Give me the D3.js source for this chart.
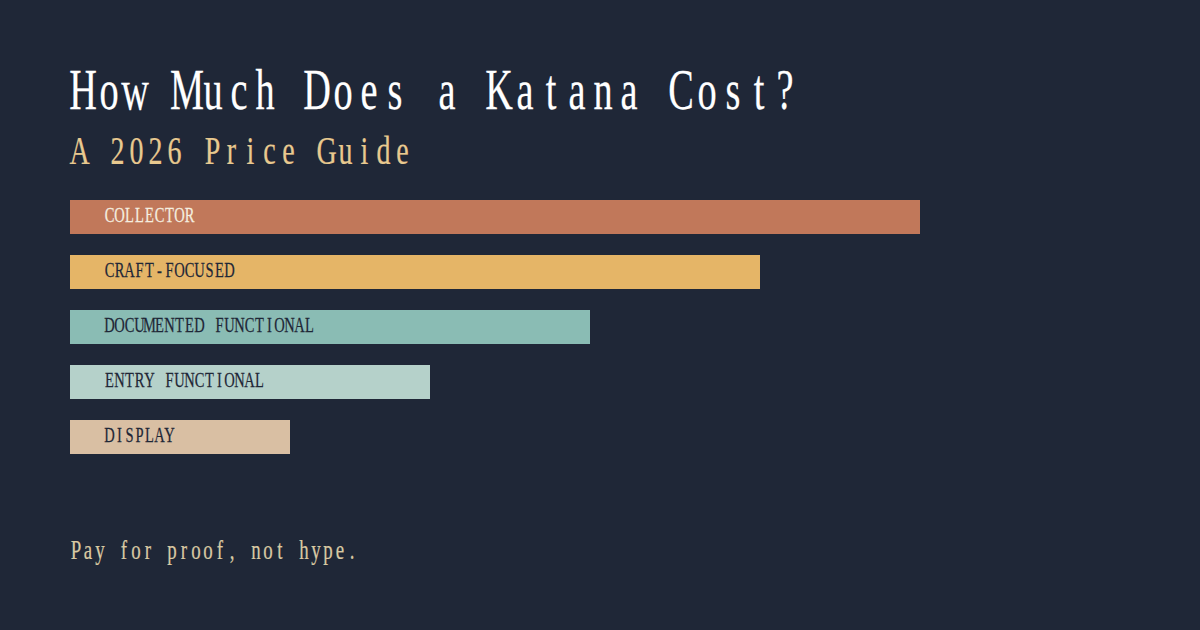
<!DOCTYPE html>
<html>
<head>
<meta charset="utf-8">
<script src="https://cdn.jsdelivr.net/npm/d3@7"></script>
<style>
  html, body { margin: 0; padding: 0; background: #1f2737; }
  svg { display: block; }
</style>
</head>
<body>
<svg id="chart"></svg>
<script>
const categories = ["COLLECTOR", "CRAFT-FOCUSED", "DOCUMENTED FUNCTIONAL", "ENTRY FUNCTIONAL", "DISPLAY"];
const values = [850, 690, 520, 360, 220];
const barColors = ["#c1785a", "#e5b567", "#8abcb4", "#b5d1ca", "#d9bfa3"];
const labelColors = ["#f5efe0", "#1f2737", "#1f2737", "#1f2737", "#1f2737"];

const width = 1200, height = 630;

const svg = d3.select("#chart").attr("width", width).attr("height", height);

svg.append("rect")
  .attr("width", width)
  .attr("height", height)
  .attr("fill", "#1f2737");

// narrow fixed-pitch serif: one text element, squeezed, each glyph centred in its cell
function pitchText(str, left, baseline, size, pitch, squeeze, fill) {
  const xs = Array.from(str, (c, i) => (pitch * (i + 0.5)) / squeeze);
  return svg.append("text")
    .attr("transform", `translate(${left},${baseline}) scale(${squeeze},1)`)
    .attr("x", xs.join(" "))
    .attr("y", 0)
    .attr("text-anchor", "middle")
    .attr("font-family", "'Liberation Serif', serif")
    .attr("font-size", size)
    .attr("fill", fill)
    .attr("stroke", fill)
    .attr("stroke-width", 0.25)
    .style("white-space", "pre")
    .text(str);
}

pitchText("How Much Does a Katana Cost?", 70, 109, 58, 26, 0.66, "#ffffff");
pitchText("A 2026 Price Guide", 70, 164, 40, 19, 0.7, "#e8c98f");

const x = d3.scaleLinear().domain([0, 850]).range([70, 920]);
const y = d3.scaleBand().domain(categories).range([200, 454]).paddingInner(21 / 55).paddingOuter(0);

svg.selectAll("rect.bar")
  .data(categories)
  .enter()
  .append("rect")
  .attr("class", "bar")
  .attr("x", x(0))
  .attr("y", (d) => y(d))
  .attr("width", (d, i) => x(values[i]) - x(0))
  .attr("height", y.bandwidth())
  .attr("fill", (d, i) => barColors[i]);

categories.forEach((d, i) => {
  pitchText(d, 104.5, y(d) + 22, 22, 10, 0.66, labelColors[i]);
});

pitchText("Pay for proof, not hype.", 70, 559, 27, 12, 0.7, "#d9c9a3");
</script>
</body>
</html>
